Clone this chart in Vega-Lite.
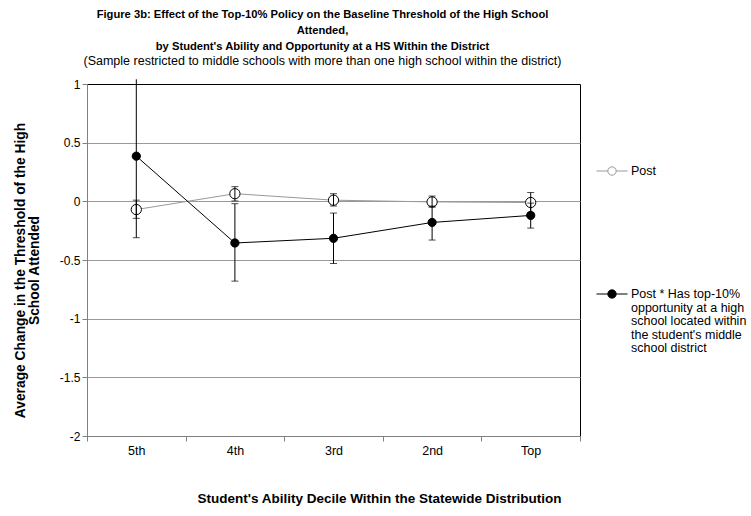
{
  "$schema": "https://vega.github.io/schema/vega-lite/v6.json",
  "width": 493,
  "height": 352,
  "autosize": "none",
  "padding": {"left": 87, "top": 84, "right": 171, "bottom": 80},
  "background": "white",
  "config": {
    "font": "Liberation Sans",
    "view": {"stroke": "#000000", "strokeWidth": 1}
  },
  "title": {
    "text": ["Figure 3b: Effect of the Top-10% Policy on the Baseline Threshold of the High School", "Attended,", "by Student's Ability and Opportunity at a HS Within the District"],
    "subtitle": "(Sample restricted to middle schools with more than one high school within the district)",
    "anchor": "middle",
    "frame": "group",
    "dx": -11,
    "font": "Liberation Sans",
    "fontSize": 11.2,
    "fontWeight": "bold",
    "lineHeight": 16,
    "color": "#000000",
    "subtitleFont": "Liberation Sans",
    "subtitleFontSize": 12.5,
    "subtitleColor": "#000000",
    "subtitlePadding": 2,
    "offset": 11
  },
  "data": {
    "values": [
      {"decile": "5th", "series": "Post", "est": -0.07, "lo": -0.145, "hi": 0.01},
      {"decile": "4th", "series": "Post", "est": 0.065, "lo": 0.003, "hi": 0.125},
      {"decile": "3rd", "series": "Post", "est": 0.01, "lo": -0.04, "hi": 0.065},
      {"decile": "2nd", "series": "Post", "est": -0.005, "lo": -0.05, "hi": 0.045},
      {"decile": "Top", "series": "Post", "est": -0.01, "lo": -0.095, "hi": 0.075},
      {"decile": "5th", "series": "Post * Has top-10% opportunity", "est": 0.385, "lo": -0.31, "hi": 1.04},
      {"decile": "4th", "series": "Post * Has top-10% opportunity", "est": -0.355, "lo": -0.68, "hi": -0.02},
      {"decile": "3rd", "series": "Post * Has top-10% opportunity", "est": -0.315, "lo": -0.53, "hi": -0.1},
      {"decile": "2nd", "series": "Post * Has top-10% opportunity", "est": -0.18, "lo": -0.33, "hi": -0.04},
      {"decile": "Top", "series": "Post * Has top-10% opportunity", "est": -0.12, "lo": -0.228, "hi": -0.015}
    ]
  },
  "encoding": {
    "x": {
      "field": "decile",
      "type": "ordinal",
      "sort": ["5th", "4th", "3rd", "2nd", "Top"],
      "scale": {"paddingInner": 0, "paddingOuter": 0},
      "axis": {
        "title": "Student's Ability Decile Within the Statewide Distribution",
        "titleFont": "Liberation Sans",
        "titleFontSize": 13.5,
        "titleFontWeight": "bold",
        "titleColor": "#000000",
        "titlePadding": 35,
        "titleX": 292,
        "titleAlign": "center",
        "labelAngle": 0,
        "labelFont": "Liberation Sans",
        "labelFontSize": 12.5,
        "labelColor": "#000000",
        "labelPadding": 3,
        "tickBand": "extent",
        "tickSize": 5,
        "tickColor": "#808080",
        "domainColor": "#808080",
        "grid": false
      }
    }
  },
  "layer": [
    {
      "mark": {"type": "line", "strokeWidth": 1},
      "encoding": {
        "y": {
          "field": "est",
          "type": "quantitative",
          "scale": {"domain": [-2, 1], "nice": false, "zero": false},
          "axis": {
            "title": ["Average Change in the Threshold of the High", "School Attended"],
            "titleFont": "Liberation Sans",
            "titleFontSize": 13.8,
            "titleFontWeight": "bold",
            "titleColor": "#000000",
            "titleLineHeight": 14,
            "titlePadding": 18,
            "titleY": 186,
            "values": [-2, -1.5, -1, -0.5, 0, 0.5, 1],
            "labelExpr": "'' + datum.value",
            "labelFont": "Liberation Sans",
            "labelFontSize": 12,
            "labelColor": "#000000",
            "labelPadding": 2,
            "tickSize": 5,
            "tickColor": "#808080",
            "domainColor": "#808080",
            "grid": true,
            "gridColor": {"condition": {"test": "datum.value == 1 || datum.value == -2", "value": "transparent"}, "value": "#999999"}
          }
        },
        "stroke": {
          "field": "series",
          "type": "nominal",
          "scale": {"domain": ["Post", "Post * Has top-10% opportunity"], "range": ["#999999", "#000000"]},
          "legend": {
            "orient": "none",
            "legendX": 509,
            "legendY": 71,
            "title": null,
            "symbolType": "M-1,0H-0.27A0.27,0.27,0,1,1,0.27,0A0.27,0.27,0,1,1,-0.27,0M0.27,0H1",
            "symbolSize": 961,
            "symbolStrokeWidth": 1,
            "labelFont": "Liberation Sans",
            "labelFontSize": 12.5,
            "labelColor": "#000000",
            "labelOffset": 3,
            "rowPadding": 100,
            "labelLimit": 300,
            "labelExpr": "datum.value == 'Post' ? 'Post' : ['Post * Has top-10%', 'opportunity at a high', 'school located within', 'the student\\'s middle', 'school district']",
            "encode": {
              "symbols": {"update": {"fill": {"signal": "datum.value == 'Post' ? '#ffffff' : '#000000'"}}},
              "labels": {"update": {"lineHeight": {"value": 13.5}}}
            }
          }
        }
      }
    },
    {
      "transform": [{"filter": "datum.series == 'Post'"}],
      "mark": {"type": "point", "filled": true, "fill": "#ffffff", "stroke": "#000000", "strokeWidth": 1, "opacity": 1, "size": 105},
      "encoding": {
        "y": {"field": "est", "type": "quantitative"}
      }
    },
    {
      "transform": [{"filter": "datum.series != 'Post'"}],
      "mark": {"type": "point", "filled": true, "fill": "#000000", "stroke": "#000000", "strokeWidth": 1, "opacity": 1, "size": 68},
      "encoding": {
        "y": {"field": "est", "type": "quantitative"}
      }
    },
    {
      "mark": {"type": "rule", "color": "#000000", "strokeWidth": 1},
      "encoding": {
        "y": {"field": "lo", "type": "quantitative"},
        "y2": {"field": "hi"}
      }
    },
    {
      "mark": {"type": "tick", "color": "#000000", "thickness": 1, "size": 7},
      "encoding": {
        "y": {"field": "lo", "type": "quantitative"}
      }
    },
    {
      "transform": [{"filter": "datum.hi <= 1"}],
      "mark": {"type": "tick", "color": "#000000", "thickness": 1, "size": 7},
      "encoding": {
        "y": {"field": "hi", "type": "quantitative"}
      }
    }
  ]
}
